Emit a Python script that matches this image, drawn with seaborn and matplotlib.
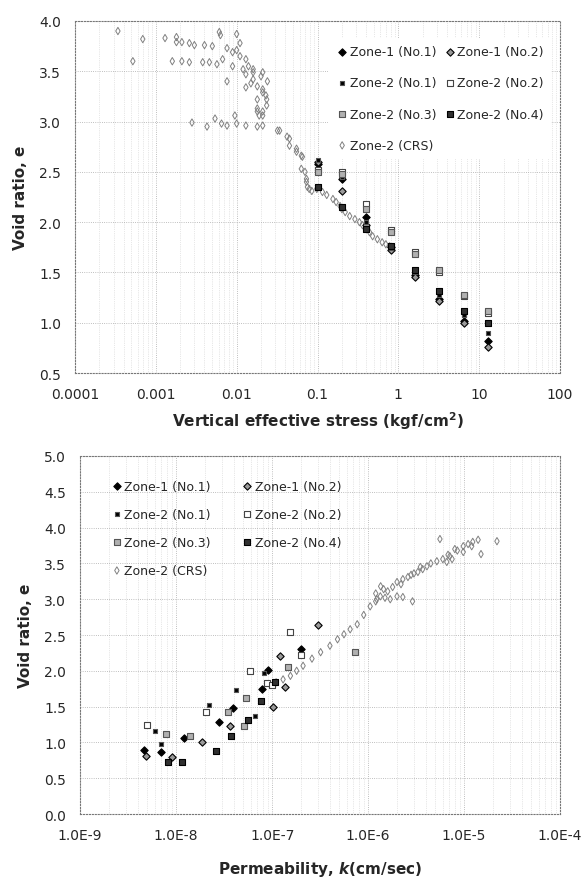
import numpy as np
import pandas as pd
import matplotlib
matplotlib.use('Agg')
import matplotlib.pyplot as plt
import seaborn as sns

# ---- data: e - log(stress) ----
load = [0.1, 0.2, 0.4, 0.8, 1.6, 3.2, 6.4, 12.8]
z1n1_e = [2.58, 2.43, 2.05, 1.75, 1.47, 1.24, 1.02, 0.82]
z1n2_e = [2.60, 2.31, 1.97, 1.72, 1.45, 1.22, 1.00, 0.76]
z2n1_e = [2.62, 2.45, 2.00, 1.74, 1.50, 1.28, 1.08, 0.90]
z2n2_e = [2.52, 2.50, 2.18, 1.92, 1.70, 1.50, 1.27, 1.10]
z2n3_e = [2.50, 2.48, 2.13, 1.90, 1.68, 1.52, 1.28, 1.12]
z2n4_e = [2.35, 2.15, 1.93, 1.76, 1.52, 1.32, 1.12, 1.00]

crs_stress = [3.4e-4, 6.9e-4, 1.3e-3, 1.8e-3, 1.8e-3, 2.1e-3, 2.6e-3, 3.0e-3, 4.0e-3, 5.0e-3,
              6.1e-3, 6.3e-3, 1.0e-2, 7.6e-3, 8.9e-3, 1.1e-2, 1.1e-2, 1.0e-2, 1.3e-2,
              5.2e-4, 1.6e-3, 2.1e-3, 2.6e-3, 3.8e-3, 4.6e-3, 5.7e-3, 6.7e-3, 8.9e-3, 1.2e-2, 1.6e-2,
              1.3e-2, 1.6e-2, 7.6e-3, 1.3e-2, 1.8e-2, 1.8e-2, 1.8e-2, 2.1e-2, 2.35e-2, 2.1e-2,
              1.9e-2, 2.35e-2, 1.6e-2, 2.1e-2, 2.1e-2, 2.3e-2, 1.8e-2, 2.1e-2, 1.5e-2, 2.0e-2,
              1.4e-2, 2.4e-2,
              2.8e-3, 4.3e-3, 5.4e-3, 6.5e-3, 9.5e-3, 1.0e-2, 1.3e-2, 1.8e-2, 2.1e-2, 7.6e-3,
              3.2e-2, 3.4e-2, 4.2e-2, 4.5e-2, 4.5e-2, 5.5e-2, 5.5e-2, 6.5e-2, 6.3e-2, 7.3e-2, 7.5e-2,
              6.3e-2, 7.0e-2, 7.3e-2, 0.079, 0.098, 0.115, 0.155, 0.19, 0.20, 0.25, 0.33, 0.40,
              0.48, 0.63, 0.78, 0.085, 0.13, 0.17, 0.22, 0.29, 0.36, 0.44, 0.55, 0.70]
crs_void = [3.90, 3.82, 3.83, 3.84, 3.79, 3.79, 3.78, 3.76, 3.76, 3.75,
            3.89, 3.86, 3.87, 3.73, 3.69, 3.65, 3.78, 3.71, 3.62,
            3.60, 3.60, 3.60, 3.59, 3.59, 3.59, 3.57, 3.62, 3.55, 3.52, 3.52,
            3.47, 3.42, 3.40, 3.34, 3.35, 3.22, 3.10, 3.32, 3.22, 3.10,
            3.06, 3.16, 3.49, 3.49, 3.29, 3.26, 3.13, 3.06, 3.38, 3.45,
            3.55, 3.40,
            2.99, 2.95, 3.03, 2.98, 3.06, 2.98, 2.96, 2.95, 2.96, 2.96,
            2.91, 2.91, 2.85, 2.83, 2.76, 2.73, 2.70, 2.65, 2.53, 2.43, 2.35,
            2.66, 2.50, 2.40, 2.33, 2.33, 2.30, 2.23, 2.16, 2.13, 2.06, 2.00, 1.93,
            1.86, 1.80, 1.76, 2.31, 2.27, 2.20, 2.10, 2.03, 1.97, 1.90, 1.83, 1.78]

# ---- data: e - log(k) ----
z1n1_k = [2.0e-7, 9.1e-8, 7.8e-8, 3.9e-8, 2.8e-8, 1.2e-8, 7.0e-9, 4.6e-9]
z1n1_ke = [2.30, 2.01, 1.75, 1.48, 1.29, 1.06, 0.87, 0.89]
z1n2_k = [3.0e-7, 1.2e-7, 1.35e-7, 1.02e-7, 3.6e-8, 1.85e-8, 9.1e-9, 4.9e-9]
z1n2_ke = [2.64, 2.21, 1.77, 1.50, 1.23, 1.00, 0.80, 0.81]
z2n1_k = [8.3e-8, 4.2e-8, 2.2e-8, 6.7e-8, 6.0e-9, 7.0e-9]
z2n1_ke = [1.97, 1.73, 1.52, 1.37, 1.16, 0.98]
z2n2_k = [1.55e-7, 2.0e-7, 5.9e-8, 8.8e-8, 1.0e-7, 2.05e-8, 5.0e-9]
z2n2_ke = [2.54, 2.22, 2.00, 1.83, 1.80, 1.42, 1.24]
z2n3_k = [7.3e-7, 1.47e-7, 5.4e-8, 3.5e-8, 5.1e-8, 1.4e-8, 7.9e-9]
z2n3_ke = [2.26, 2.05, 1.62, 1.42, 1.23, 1.09, 1.12]
z2n4_k = [1.07e-7, 7.7e-8, 5.6e-8, 3.7e-8, 2.6e-8, 1.15e-8, 8.2e-9]
z2n4_ke = [1.84, 1.58, 1.31, 1.09, 0.88, 0.72, 0.73]

crs_k = [1.1e-7, 1.3e-7, 1.55e-7, 1.8e-7, 2.1e-7, 2.6e-7, 3.2e-7, 4.0e-7, 4.8e-7, 5.6e-7,
         6.5e-7, 7.7e-7, 9.0e-7, 1.05e-6, 1.2e-6, 1.34e-6, 1.6e-6, 2.0e-6, 2.3e-6, 2.6e-6,
         3.3e-6, 3.7e-6, 4.1e-6, 5.2e-6, 6.0e-6, 7.1e-6, 8.5e-6, 9.8e-6, 1.1e-5, 1.23e-5, 1.4e-5,
         1.23e-6, 1.5e-6, 1.7e-6, 2.0e-6, 2.3e-6, 2.9e-6, 1.45e-6, 1.8e-6, 3.0e-6, 3.5e-6,
         6.6e-6, 7.5e-6, 9.8e-6, 1.5e-5, 2.2e-5, 5.6e-6, 1.2e-6, 1.35e-6, 2.2e-6, 2.8e-6,
         4.5e-6, 6.8e-6, 8.0e-6, 1.2e-5]
crs_ke = [1.84, 1.88, 1.93, 2.00, 2.07, 2.17, 2.26, 2.35, 2.44, 2.51,
          2.58, 2.65, 2.78, 2.90, 2.97, 3.04, 3.11, 3.24, 3.28, 3.31,
          3.38, 3.42, 3.46, 3.53, 3.56, 3.60, 3.68, 3.74, 3.77, 3.80, 3.83,
          3.00, 3.02, 3.00, 3.04, 3.03, 2.97, 3.14, 3.17, 3.36, 3.45,
          3.52, 3.56, 3.66, 3.63, 3.81, 3.84, 3.08, 3.18, 3.21, 3.34,
          3.50, 3.62, 3.70, 3.74]

labels = ['Zone-1 (No.1)', 'Zone-1 (No.2)', 'Zone-2 (No.1)', 'Zone-2 (No.2)',
          'Zone-2 (No.3)', 'Zone-2 (No.4)', 'Zone-2 (CRS)']

# marker styles: (marker, face, edge, size)
styles = [('D', 'black', 'black', 14),
          ('D', '#9a9a9a', 'black', 14),
          ('s', 'black', '#555555', 12),
          ('s', 'white', '#444444', 22),
          ('s', '#b0b0b0', '#555555', 22),
          ('s', '#303030', 'black', 22),
          ('d', 'none', '#808080', 14)]

# legend filled column by column -> reorder so it reads row by row
leg_order = [0, 2, 4, 6, 1, 3, 5]

sns.set_style('white')
plt.rcParams['font.family'] = ['DejaVu Sans']

fig = plt.figure(figsize=(5.81, 8.79), dpi=100)
ax1 = fig.add_axes([0.129, 0.5745, 0.835, 0.4005])
ax2 = fig.add_axes([0.138, 0.0728, 0.826, 0.4073])


def draw(ax, xs, ys):
    for (m, fc, ec, s), x, y, lab in zip(styles, xs, ys, labels):
        if fc == 'none':
            sns.scatterplot(x=x, y=y, ax=ax, marker=m, s=s, facecolors='none',
                            edgecolor=ec, linewidth=0.7, label=lab, zorder=2)
        else:
            sns.scatterplot(x=x, y=y, ax=ax, marker=m, s=s, color=fc,
                            edgecolor=ec, linewidth=0.8, label=lab, zorder=3)
    ax.set_xscale('log')
    ax.tick_params(length=0, pad=10, labelsize=10)
    ax.grid(True, which='major', axis='both', color='#aaaaaa', linestyle=':', linewidth=0.6)
    ax.grid(True, which='minor', axis='x', color='#d0d0d0', linestyle=':', linewidth=0.5)
    for sp in ax.spines.values():
        sp.set_color('#777777')
        sp.set_linestyle(':')
        sp.set_linewidth(0.8)


def legend(ax, **kw):
    h, l = ax.get_legend_handles_labels()
    return ax.legend([h[i] for i in leg_order], [l[i] for i in leg_order], ncol=2,
                     fontsize=9, handletextpad=0.1, handlelength=1.0, scatterpoints=1, **kw)


# top: e - log p
draw(ax1,
     [load, load, load, load, load, load, crs_stress],
     [z1n1_e, z1n2_e, z2n1_e, z2n2_e, z2n3_e, z2n4_e, crs_void])
ax1.set_xlim(1e-4, 100)
ax1.set_ylim(0.5, 4.0)
ax1.set_xticks([1e-4, 1e-3, 1e-2, 1e-1, 1, 10, 100])
ax1.set_xticklabels(['0.0001', '0.001', '0.01', '0.1', '1', '10', '100'])
ax1.set_yticks(np.arange(0.5, 4.01, 0.5))
ax1.set_yticklabels([f'{v:.1f}' for v in np.arange(0.5, 4.01, 0.5)])
ax1.set_xlabel('Vertical effective stress (kgf/cm$^\\mathbf{2}$)', fontsize=11,
               fontweight='bold', labelpad=6)
ax1.set_ylabel('Void ratio, e', fontsize=11, fontweight='bold', labelpad=8)
legend(ax1, loc='upper right', bbox_to_anchor=(0.995, 0.97), frameon=True,
       facecolor='white', edgecolor='none', framealpha=1,
       columnspacing=0.6, labelspacing=1.45, borderpad=0.6)

# bottom: e - log k
draw(ax2,
     [z1n1_k, z1n2_k, z2n1_k, z2n2_k, z2n3_k, z2n4_k, crs_k],
     [z1n1_ke, z1n2_ke, z2n1_ke, z2n2_ke, z2n3_ke, z2n4_ke, crs_ke])
ax2.set_xlim(1e-9, 1e-4)
ax2.set_ylim(0, 5.0)
ax2.set_xticks([1e-9, 1e-8, 1e-7, 1e-6, 1e-5, 1e-4])
ax2.set_xticklabels(['1.0E-9', '1.0E-8', '1.0E-7', '1.0E-6', '1.0E-5', '1.0E-4'])
ax2.set_yticks(np.arange(0, 5.01, 0.5))
ax2.set_yticklabels([f'{v:.1f}' for v in np.arange(0, 5.01, 0.5)])
ax2.set_xlabel('Permeability, $\\mathbfit{k}$(cm/sec)', fontsize=11,
               fontweight='bold', labelpad=12)
ax2.set_ylabel('Void ratio, e', fontsize=11, fontweight='bold', labelpad=8)
legend(ax2, loc='upper left', bbox_to_anchor=(0.04, 0.965), frameon=False,
       columnspacing=2.4, labelspacing=1.2)

plt.savefig('out.png', dpi=100)
